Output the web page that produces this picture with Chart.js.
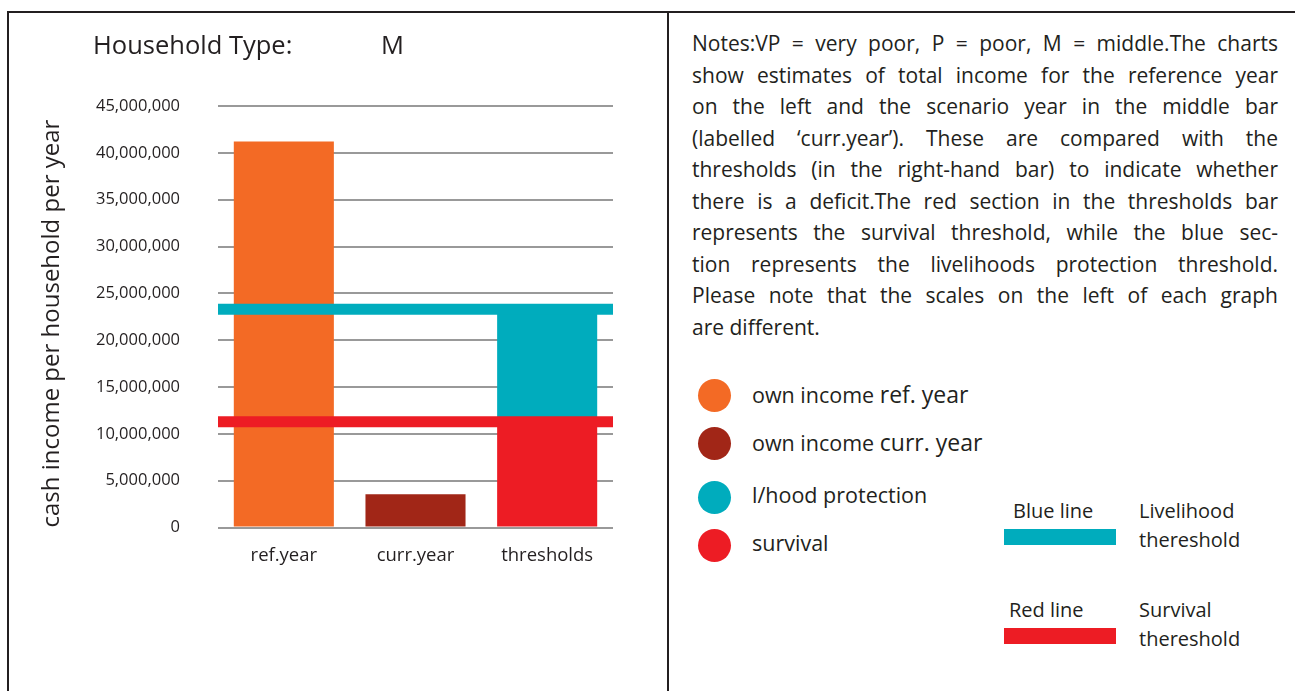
<!DOCTYPE html>
<html>
<head>
<meta charset="utf-8">
<script src="https://cdn.jsdelivr.net/npm/chart.js@4/dist/chart.umd.min.js"></script>
<style>
	body { margin: 0; width: 1295px; height: 691px; position: relative; overflow: hidden; background: #fff; font-family: 'Open Sans', sans-serif; color: #231f20; }
	#chart { position: absolute; left: 0; top: 0; }
	.line { position: absolute; background: #231f20; }
	.txt { position: absolute; white-space: nowrap; }
	#notes { position: absolute; left: 692px; top: 28px; width: 586px; font-size: 21px; line-height: 31.5px; }
	#notes div { text-align: justify; text-align-last: justify; white-space: nowrap; }
	#notes div.last { text-align-last: left; }
	.dot { position: absolute; width: 33px; height: 33px; border-radius: 50%; }
	.bar { position: absolute; width: 112px; height: 16px; }
	.big { font-size: 23px; }
</style>
</head>
<body>
<canvas id="chart" width="668" height="691"></canvas>

<div class="line" style="left:7px; top:11px; width:1288px; height:2px;"></div>
<div class="line" style="left:7px; top:11px; width:2px; height:680px;"></div>
<div class="line" style="left:667px; top:11px; width:2px; height:680px;"></div>

<div class="txt" style="left:93px; top:27px; font-size:25.5px;">Household Type:</div>
<div class="txt" style="left:381px; top:27px; font-size:25.5px;">M</div>

<div id="notes">
	<div>Notes:VP = very poor, P = poor, M = middle.The charts</div>
	<div>show estimates of total income for the reference year</div>
	<div>on the left and the scenario year in the middle bar</div>
	<div>(labelled ‘curr.year’). These are compared with the</div>
	<div>thresholds (in the right-hand bar) to indicate whether</div>
	<div>there is a deficit.The red section in the thresholds bar</div>
	<div>represents the survival threshold, while the blue sec-</div>
	<div>tion represents the livelihoods protection threshold.</div>
	<div>Please note that the scales on the left of each graph</div>
	<div class="last">are different.</div>
</div>

<div id="legend"></div>

<div class="txt" style="left:1013px; top:497px; font-size:20px;">Blue line</div>
<div class="bar" style="left:1004px; top:529px; background:#00acbd;"></div>
<div class="txt" style="left:1139px; top:496px; font-size:20px; line-height:29px;">Livelihood<br>thereshold</div>

<div class="txt" style="left:1009px; top:596px; font-size:20px;">Red line</div>
<div class="bar" style="left:1004px; top:628px; background:#ed1c24;"></div>
<div class="txt" style="left:1139px; top:595px; font-size:20px; line-height:29px;">Survival<br>thereshold</div>

<script>
'use strict';

const categories = ['ref.year', 'curr.year', 'thresholds'];
const refIncome = [41200000, null, null];
const currIncome = [null, 3550000, null];
const survival = [null, null, 11300000];
const protection = [null, null, 12000000];
const blueLine = 23300000;
const redLine = 11300000;
const yTicks = [0, 5000000, 10000000, 15000000, 20000000, 25000000, 30000000, 35000000, 40000000, 45000000];

const legendItems = [
	{label: 'own income', extra: 'ref. year', color: '#f36a25', y: 395},
	{label: 'own income', extra: 'curr. year', color: '#a12617', y: 443},
	{label: 'l/hood protection', extra: '', color: '#00acbd', y: 497},
	{label: 'survival', extra: '', color: '#ed1c24', y: 545}
];

let legend = document.getElementById('legend');
legendItems.forEach((item) => {
	let dot = document.createElement('div');
	dot.className = 'dot';
	dot.style.left = '698px';
	dot.style.top = (item.y - 16) + 'px';
	dot.style.background = item.color;
	legend.appendChild(dot);

	let txt = document.createElement('div');
	txt.className = 'txt';
	txt.style.left = '752px';
	txt.style.top = (item.y - 17) + 'px';
	txt.style.fontSize = '21.5px';
	txt.textContent = item.label + ' ';
	if (item.extra) {
		let span = document.createElement('span');
		span.className = 'big';
		span.textContent = item.extra;
		txt.appendChild(span);
	}
	legend.appendChild(txt);
});

// horizontal threshold lines across the plot
const thresholdLines = {
	id: 'thresholdLines',
	afterDatasetsDraw(chart) {
		let ctx = chart.ctx;
		let area = chart.chartArea;
		let y = chart.scales.y;
		ctx.save();
		ctx.lineWidth = 11;
		[[blueLine, '#00acbd'], [redLine, '#ed1c24']].forEach(([value, color]) => {
			let py = y.getPixelForValue(value);
			ctx.strokeStyle = color;
			ctx.beginPath();
			ctx.moveTo(area.left, py);
			ctx.lineTo(area.right, py);
			ctx.stroke();
		});
		ctx.restore();
	}
};

Chart.defaults.font.family = "'Open Sans'";
Chart.defaults.color = '#231f20';

new Chart(document.getElementById('chart'), {
	type: 'bar',
	data: {
		labels: categories,
		datasets: [
			{label: 'own income ref. year', data: refIncome, backgroundColor: '#f36a25'},
			{label: 'own income curr. year', data: currIncome, backgroundColor: '#a12617'},
			{label: 'survival', data: survival, backgroundColor: '#ed1c24'},
			{label: 'l/hood protection', data: protection, backgroundColor: '#00acbd'}
		]
	},
	options: {
		responsive: false,
		animation: false,
		layout: {padding: {top: 106, bottom: 123.5, left: 0, right: 55}},
		barPercentage: 0.76,
		categoryPercentage: 1,
		plugins: {legend: {display: false}, tooltip: {enabled: false}},
		scales: {
			x: {
				stacked: true,
				grid: {display: false},
				border: {display: false},
				ticks: {font: {size: 18.5}, padding: 9},
				afterFit: (scale) => { scale.height = 40; }
			},
			y: {
				stacked: true,
				min: 0,
				max: 45000000,
				afterBuildTicks: (scale) => { scale.ticks = yTicks.map((v) => ({value: v})); },
				grid: {color: '#999999', lineWidth: 2, drawTicks: false},
				border: {display: false},
				ticks: {
					font: {size: 16.5},
					padding: 38,
					callback: (v) => v.toLocaleString('en-US')
				},
				title: {
					display: true,
					align: 'start',
					text: 'cash income per household per year',
					font: {size: 24},
					padding: {top: 38, bottom: 0}
				},
				afterFit: (scale) => { scale.width = 218; }
			}
		}
	},
	plugins: [thresholdLines]
});
</script>
</body>
</html>
